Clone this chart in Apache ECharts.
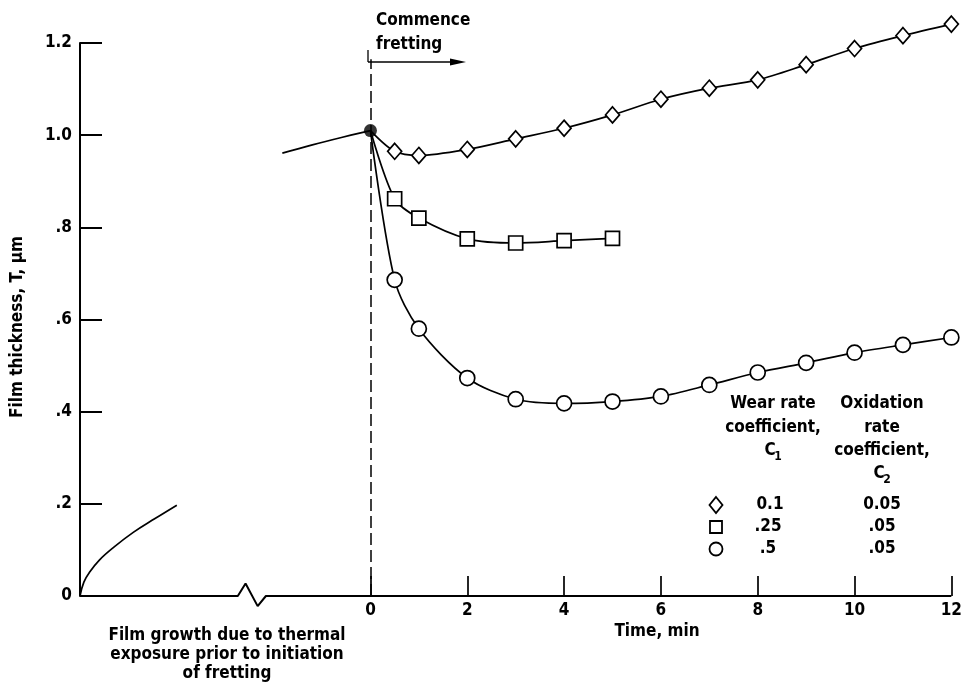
<!DOCTYPE html>
<html><head><meta charset="utf-8">
<script src="https://cdn.jsdelivr.net/npm/echarts@6/dist/echarts.min.js"></script>
<style>html,body{margin:0;padding:0;background:#fff}#c{width:965px;height:694px}</style>
</head><body><div id="c"></div>
<script>
// ---- data ----
const xTickValues = [0, 2, 4, 6, 8, 10, 12];
const yTickLabels = { 0: '0', 0.2: '.2', 0.4: '.4', 0.6: '.6', 0.8: '.8', 1: '1.0', 1.2: '1.2' };

const diamondT = [0, 0.5, 1, 2, 3, 4, 5, 6, 7, 8, 9, 10, 11, 12];
const diamondV = [1.01, 0.965, 0.956, 0.969, 0.992, 1.015, 1.044, 1.078, 1.102, 1.120, 1.153, 1.188, 1.216, 1.241];

const squareT = [0, 0.5, 1, 2, 3, 4, 5];
const squareV = [1.01, 0.862, 0.820, 0.775, 0.766, 0.771, 0.776];

const circleT = [0, 0.5, 1, 2, 3, 4, 5, 6, 7, 8, 9, 10, 11, 12];
const circleV = [1.01, 0.686, 0.580, 0.473, 0.427, 0.418, 0.422, 0.433, 0.458, 0.485, 0.506, 0.528, 0.545, 0.561];

const preT = [-1.82, -1.2, -0.6, 0];
const preV = [0.961, 0.979, 0.995, 1.01];

const growthT = [-6, -5.92, -5.8, -5.6, -5.3, -4.9, -4.45, -4.0];
const growthV = [0, 0.03, 0.052, 0.078, 0.106, 0.138, 0.168, 0.197];

const startPoint = [0, 1.01];
const baselineT = [-6, -2.74, -2.58, -2.33, -2.16, 12];
const baselineV = [0, 0, 0.027, -0.022, 0, 0];

const FONT = "'DejaVu Sans Condensed','Liberation Sans Narrow','Roboto Condensed',sans-serif";
const FS = 17;

function pairs(t, v) { return t.map((x, i) => [x, v[i]]); }
function markerData(t, v) {
  return pairs(t, v).map((p, i) => i === 0 ? { value: p, symbol: 'none' } : { value: p });
}

const chart = echarts.init(document.getElementById('c'), null, { renderer: 'canvas' });
const lineStyle = { color: '#000', width: 1.7 };
const itemStyle = { color: '#fff', borderColor: '#000', borderWidth: 1.7 };

const option = {
  backgroundColor: '#fff',
  animation: false,
  textStyle: { fontFamily: FONT },
  grid: { left: 80, right: 12, top: 43, bottom: 98, containLabel: false },
  xAxis: {
    type: 'value', min: -6, max: 12, interval: 2,
    axisLine: { show: false, onZero: false },
    splitLine: { show: false },
    axisTick: { show: true, inside: true, length: 20, customValues: xTickValues, lineStyle: { color: '#000', width: 1.7 } },
    axisLabel: { customValues: xTickValues, color: '#000', fontSize: FS, fontWeight: 'bold', margin: 6, fontFamily: FONT }
  },
  yAxis: {
    type: 'value', min: 0, max: 1.2, interval: 0.2,
    axisLine: { show: true, onZero: false, lineStyle: { color: '#000', width: 2 } },
    splitLine: { show: false },
    axisTick: { show: true, inside: true, length: 22, lineStyle: { color: '#000', width: 2 } },
    axisLabel: { color: '#000', fontSize: FS, fontWeight: 'bold', margin: 8, fontFamily: FONT,
      formatter: v => yTickLabels[Math.round(v * 10) / 10] ?? '' }
  },
  series: [
    { type: 'line', data: pairs(baselineT, baselineV), symbol: 'none', clip: false,
      lineStyle: { color: '#000', width: 2 }, z: 1,
      markLine: { silent: true, symbol: 'none', label: { show: false },
        lineStyle: { color: '#000', width: 1.5, type: [12, 5] },
        data: [[{ coord: [0, 0] }, { coord: [0, 1.165] }]] } },
    { type: 'line', data: pairs(growthT, growthV), smooth: 0.4, symbol: 'none', lineStyle, clip: false },
    { type: 'line', data: pairs(preT, preV), smooth: 0.4, symbol: 'none', lineStyle, clip: false },
    { type: 'line', data: markerData(diamondT, diamondV), smooth: 0.3, symbol: 'diamond', symbolSize: [14, 16],
      lineStyle, itemStyle, z: 3, clip: false },
    { type: 'line', data: markerData(squareT, squareV), smooth: 0.3, symbol: 'rect', symbolSize: 14,
      lineStyle, itemStyle, z: 3, clip: false },
    { type: 'line', data: markerData(circleT, circleV), smooth: 0.3, symbol: 'circle', symbolSize: 15,
      lineStyle, itemStyle, z: 3, clip: false },
    { type: 'scatter', data: [startPoint], symbol: 'circle', symbolSize: 13,
      itemStyle: { color: '#000' }, z: 5, clip: false }
  ],
  graphic: []
};

function txt(x, y, s, align, size) {
  return { type: 'text', x: x, y: y, z: 10, style: { text: s, fill: '#000', font: 'bold ' + (size || FS) + 'px ' + FONT,
    textAlign: align || 'center', textVerticalAlign: 'middle' } };
}
const g = option.graphic;
// Commence fretting annotation
g.push(txt(376, 21, 'Commence', 'left'));
g.push(txt(376, 45, 'fretting', 'left'));
g.push({ type: 'line', z: 10, shape: { x1: 368, y1: 50, x2: 368, y2: 62 }, style: { stroke: '#000', lineWidth: 1.3 } });
g.push({ type: 'line', z: 10, shape: { x1: 368, y1: 62, x2: 456, y2: 62 }, style: { stroke: '#000', lineWidth: 1.5 } });
g.push({ type: 'polygon', z: 10, shape: { points: [[450, 58.5], [466, 62], [450, 65.5]] }, style: { fill: '#000' } });
// Axis titles
g.push(txt(657, 632, 'Time, min'));
g.push({ type: 'text', x: 18, y: 327, rotation: Math.PI / 2, z: 10,
  style: { text: 'Film thickness, T, μm', fill: '#000', font: 'bold ' + FS + 'px ' + FONT, textAlign: 'center', textVerticalAlign: 'middle' } });
// Bottom-left note
g.push(txt(227, 636, 'Film growth due to thermal'));
g.push(txt(227, 655, 'exposure prior to initiation'));
g.push(txt(227, 674, 'of fretting'));
// Legend table
g.push(txt(773, 404, 'Wear rate'));
g.push(txt(773, 428, 'coefficient,'));
g.push(txt(770, 451, 'C'));
g.push(txt(778, 457, '1', 'center', 12));
g.push(txt(882, 404, 'Oxidation'));
g.push(txt(882, 428, 'rate'));
g.push(txt(882, 451, 'coefficient,'));
g.push(txt(879, 474, 'C'));
g.push(txt(887, 480, '2', 'center', 12));
g.push({ type: 'polygon', z: 10, shape: { points: [[716, 497], [722.5, 505], [716, 513], [709.5, 505]] }, style: { fill: '#fff', stroke: '#000', lineWidth: 1.8 } });
g.push({ type: 'rect', z: 10, shape: { x: 710, y: 521, width: 12, height: 12 }, style: { fill: '#fff', stroke: '#000', lineWidth: 1.8 } });
g.push({ type: 'circle', z: 10, shape: { cx: 716, cy: 549, r: 6.5 }, style: { fill: '#fff', stroke: '#000', lineWidth: 1.8 } });
g.push(txt(770, 505, '0.1'));
g.push(txt(768, 527, '.25'));
g.push(txt(768, 549, '.5'));
g.push(txt(882, 505, '0.05'));
g.push(txt(882, 527, '.05'));
g.push(txt(882, 549, '.05'));

chart.setOption(option);
</script></body></html>
